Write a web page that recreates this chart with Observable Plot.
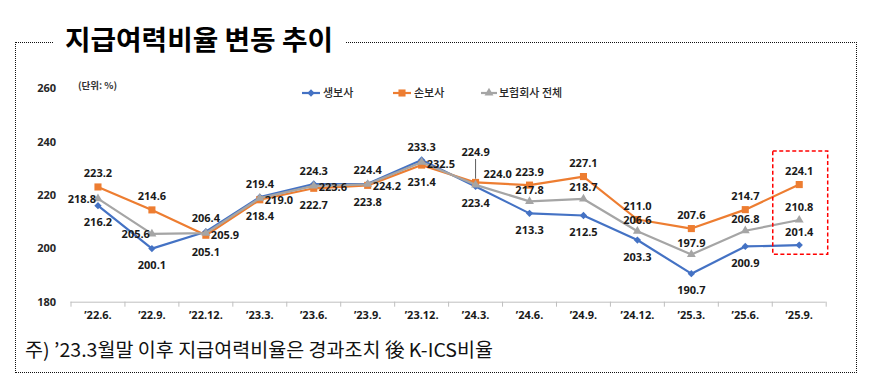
<!DOCTYPE html>
<html>
<head>
<meta charset="utf-8">
<script src="https://cdn.jsdelivr.net/npm/d3@7"></script>
<script src="https://cdn.jsdelivr.net/npm/@observablehq/plot@0.6"></script>
<style>
  body { margin: 0; background: #fff; }
  #wrap { position: relative; width: 870px; height: 383px; overflow: hidden; font-family: "Open Sans", "Noto Sans CJK KR", sans-serif; }
  #box { position: absolute; left: 15px; top: 42px; width: 842px; height: 331px; border: 1px dotted #111; box-sizing: border-box; }
  #chart, #overlay { position: absolute; left: 0; top: 0; }
  #chart svg { display: block; }
</style>
</head>
<body>
<div id="wrap">
  <div id="box"></div>
  <div id="chart"></div>
  <svg id="overlay" width="870" height="383"></svg>
</div>
<script>
// ---- data ----
const categories = ["’22.6.", "’22.9.", "’22.12.", "’23.3.", "’23.6.", "’23.9.", "’23.12.", "’24.3.", "’24.6.", "’24.9.", "’24.12.", "’25.3.", "’25.6.", "’25.9."];
const lifeValues    = [216.2, 200.1, 206.4, 219.4, 224.3, 224.4, 233.3, 223.4, 213.3, 212.5, 203.3, 190.7, 200.9, 201.4];
const nonLifeValues = [223.2, 214.6, 205.1, 218.4, 222.7, 223.8, 231.4, 224.9, 223.9, 227.1, 211.0, 207.6, 214.7, 224.1];
const totalValues   = [218.8, 205.6, 205.9, 219.0, 223.6, 224.2, 232.5, 224.0, 217.8, 218.7, 206.6, 197.9, 206.8, 210.8];
const seriesNames = ["생보사", "손보사", "보험회사 전체"];
const yTicks = [180, 200, 220, 240, 260];
const titleText = "지급여력비율 변동 추이";
const unitText = "(단위: %)";
const noteText = "주) ’23.3월말 이후 지급여력비율은 경과조치 後 K-ICS비율";

// ---- styles ----
const colors = ["#4472C4", "#ED7D31", "#A5A5A5"];
const symbols = ["diamond2", "square", "triangle"];
const radii = [3.3, 4.0, 3.3];
const seriesValues = [lifeValues, nonLifeValues, totalValues];
const n = categories.length;

// label placement rule: top label above, bottom below, middle to the side when clustered
function place(i, s) {
  if (i === n - 1) return "above";
  const vals = seriesValues.map((arr, k) => ({k, v: arr[i]})).sort((a, b) => b.v - a.v);
  const rank = vals.findIndex(d => d.k === s);
  const spread = vals[0].v - vals[2].v;
  const clustered = spread < 4;
  const topIsNonLife = vals[0].k === 1;
  if (rank === 0) return clustered && topIsNonLife ? "far" : "above";
  if (rank === 2) return "below";
  if (clustered) return topIsNonLife ? "rightHigh" : "right";
  if (i < 2) return "left";
  return "midAbove";
}

const rows = [];
seriesValues.forEach((arr, s) => arr.forEach((v, i) => rows.push({s, i, v, name: seriesNames[s], pos: place(i, s)})));

const labelFont = {fontSize: 11, fontWeight: "bold", fill: "#1a1a1a"};
const labelSets = [
  ["above", {dy: -13}],
  ["far", {dy: -30}],
  ["midAbove", {dy: -11}],
  ["below", {dy: 17}],
  ["right", {dx: 5, dy: 2, textAnchor: "start"}],
  ["rightHigh", {dx: 8, dy: -10, textAnchor: "start"}],
  ["left", {dx: -2, dy: 1, textAnchor: "end"}]
];

const lastVals = seriesValues.map(a => a[n - 1]);

const marks = [
  Plot.ruleY([180], {stroke: "#BFBFBF", strokeWidth: 1}),
  Plot.axisY({ticks: yTicks, tickSize: 0, tickPadding: 15, label: null, fontSize: 11, fontWeight: "bold", fill: "#262626"}),
  Plot.axisX({ticks: d3.range(n + 1).map(i => i - 0.5), tickSize: 5, tickFormat: () => "", label: null, stroke: "#BFBFBF"}),
  Plot.axisX({ticks: d3.range(n), tickSize: 0, tickPadding: 9, tickFormat: i => categories[i], label: null, fontSize: 11, fontWeight: "bold", fill: "#1a1a1a"})
];
[0, 1, 2].forEach(s => {
  const data = rows.filter(d => d.s === s);
  marks.push(Plot.line(data, {x: "i", y: "v", stroke: colors[s], strokeWidth: 2.2}));
  marks.push(Plot.dot(data, {x: "i", y: "v", symbol: () => symbols[s], r: radii[s], fill: colors[s], stroke: "none"}));
});
// leader line for labels pulled far from their point
marks.push(Plot.ruleX(rows.filter(d => d.pos === "far"), {x: "i", y1: d => d.v + 1.2, y2: d => d.v + 8.6, stroke: "#333", strokeWidth: 0.8}));
labelSets.forEach(([pos, opts]) => {
  marks.push(Plot.text(rows.filter(d => d.pos === pos), {x: "i", y: "v", text: d => d.v.toFixed(1), ...labelFont, ...opts}));
});
marks.push(Plot.rect([0], {
  x1: n - 1.5, x2: n - 0.5,
  y1: d3.min(lastVals) - 3.6, y2: d3.max(lastVals) + 12.4,
  fill: "none", stroke: "#FF0000", strokeWidth: 1.5, strokeDasharray: "4,2.5",
  insetLeft: 1, insetRight: -2
}));

const chart = Plot.plot({
  width: 870,
  height: 383,
  marginLeft: 70.5,
  marginRight: 44.3,
  marginTop: 88.3,
  marginBottom: 81.3,
  x: {type: "linear", domain: [-0.5, n - 0.5]},
  y: {domain: [180, 260]},
  symbol: {type: "identity"},
  style: {background: "transparent", fontFamily: "'Open Sans', 'Noto Sans CJK KR', sans-serif", color: "#1a1a1a"},
  marks
});
document.getElementById("chart").appendChild(chart);

// ---- title, unit, legend, footnote overlay ----
const ov = d3.select("#overlay");
ov.append("rect").attr("x", 53).attr("y", 36).attr("width", 293).attr("height", 12).attr("fill", "#fff");
ov.append("text").attr("x", 65).attr("y", 49.6)
  .attr("font-family", "'Noto Sans CJK KR', sans-serif").attr("font-weight", 700).attr("font-size", 27)
  .attr("textLength", 268).attr("lengthAdjust", "spacingAndGlyphs").attr("fill", "#000").text(titleText);
ov.append("text").attr("x", 78).attr("y", 88.5)
  .attr("font-family", "'Noto Sans CJK KR', sans-serif").attr("font-weight", 700).attr("font-size", 9.5)
  .attr("fill", "#333").text(unitText);
ov.append("text").attr("x", 25).attr("y", 356.8)
  .attr("font-family", "'Noto Sans CJK KR', sans-serif").attr("font-size", 19)
  .attr("textLength", 468).attr("lengthAdjust", "spacingAndGlyphs").attr("fill", "#111").text(noteText);

const legendItems = [
  {x0: 302, x1: 320, tx: 323},
  {x0: 393, x1: 411, tx: 414},
  {x0: 481, x1: 497, tx: 499}
];
const d3sym = {diamond2: d3.symbolDiamond2, square: d3.symbolSquare, triangle: d3.symbolTriangle};
legendItems.forEach((it, s) => {
  const g = ov.append("g");
  g.append("line").attr("x1", it.x0).attr("x2", it.x1).attr("y1", 93).attr("y2", 93)
    .attr("stroke", colors[s]).attr("stroke-width", 2.2);
  g.append("path").attr("transform", `translate(${(it.x0 + it.x1) / 2},93)`)
    .attr("d", d3.symbol(d3sym[symbols[s]], Math.PI * radii[s] * radii[s])())
    .attr("fill", colors[s]);
  g.append("text").attr("x", it.tx).attr("y", 97)
    .attr("font-family", "'Noto Sans CJK KR', sans-serif").attr("font-size", 11).attr("font-weight", 500)
    .attr("fill", "#262626").text(seriesNames[s]);
});
</script>
</body>
</html>
